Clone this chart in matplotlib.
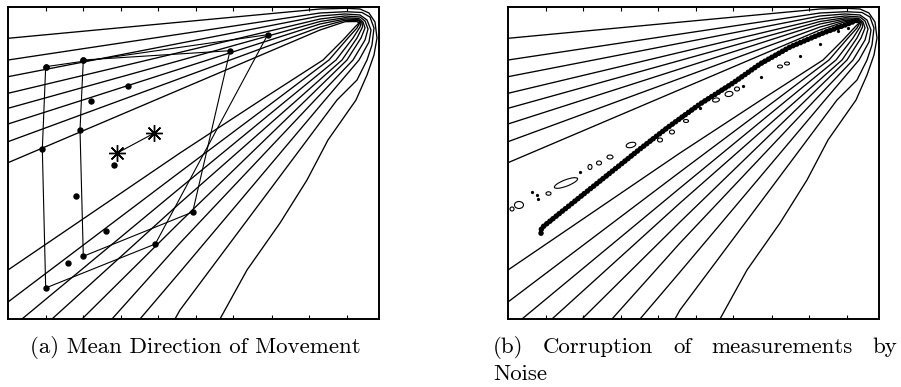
import matplotlib
matplotlib.use("Agg")
import matplotlib.pyplot as plt
from matplotlib.patches import Ellipse

# contour lines (same background field in both panels)
# each curve: upper arm from the left edge, round the focus, lower arm to the edge
hairpin_x = [
    [0, 8.410, 9.111, 9.488, 9.730, 9.892, 9.946, 9.865, 9.677, 9.380, 8.625, 8.059, 7.332, 6.442, 5.714],
    [0, 8.410, 9.111, 9.542, 9.757, 9.865, 9.811, 9.677, 9.407, 8.868, 4.636, 4.501],
    [0, 8.410, 9.084, 9.488, 9.677, 9.784, 9.730, 9.461, 8.544, 4.636, 3.558],
    [0, 8.410, 9.084, 9.488, 9.623, 9.704, 9.623, 9.299, 8.275, 4.636, 2.803],
    [0, 8.410, 9.084, 9.461, 9.569, 9.623, 9.515, 9.137, 8.032, 4.636, 1.995],
    [0, 8.410, 9.084, 9.434, 9.542, 9.555, 9.407, 9.003, 7.790, 4.636, 1.186],
    [0, 8.410, 9.084, 9.434, 9.515, 9.488, 9.299, 8.841, 7.520, 4.636, 0.377],
    [0, 8.410, 9.084, 9.407, 9.474, 9.407, 9.164, 8.652, 7.224, 4.636, 0],
    [0, 4.636, 6.819, 8.491, 9.030, 9.353, 9.488],
]
hairpin_y = [
    [8.997, 9.936, 9.958, 9.936, 9.808, 9.519, 9.006, 8.462, 7.821, 7.019, 5.737, 4.455, 3.077, 1.571, 0],
    [8.301, 9.808, 9.849, 9.824, 9.679, 9.327, 8.782, 8.301, 7.660, 7.019, 0.288, 0],
    [7.766, 9.712, 9.776, 9.744, 9.583, 9.263, 8.878, 8.301, 7.019, 1.506, 0],
    [7.234, 9.615, 9.712, 9.679, 9.551, 9.295, 8.942, 8.301, 7.019, 2.436, 0],
    [6.753, 9.535, 9.657, 9.631, 9.519, 9.327, 9.006, 8.301, 7.019, 3.109, 0],
    [6.250, 9.455, 9.615, 9.599, 9.503, 9.359, 9.006, 8.301, 7.019, 3.718, 0],
    [5.683, 9.359, 9.574, 9.567, 9.487, 9.359, 9.006, 8.301, 7.019, 4.199, 0],
    [5.010, 9.263, 9.529, 9.535, 9.471, 9.327, 9.006, 8.301, 7.019, 4.712, 0.545],
    [1.571, 5.321, 7.019, 8.301, 8.942, 9.359, 9.519],
]

# panel (a): two particle quadrilaterals, loose particles, mean positions
quad1_x = [1.016, 7.000, 3.970, 1.016, 0.925, 1.016]
quad1_y = [8.087, 9.112, 2.404, 0.994, 5.449, 8.087]
quad2_x = [2.030, 5.984, 4.978, 2.030, 1.941, 2.030]
quad2_y = [8.301, 8.599, 3.429, 2.010, 6.058, 8.301]
loose_x = [3.243, 2.237, 2.857, 1.833, 2.642, 1.625]
loose_y = [7.478, 6.987, 4.946, 3.942, 2.821, 1.804]
mean_x = [2.930, 3.935]
mean_y = [5.311, 5.952]

# panel (b): measurement track and noise contours
track_x = [0.890, 0.903, 1.402, 2.480, 3.558, 4.286, 5.175, 6.065, 6.792, 7.601, 8.491, 9.084, 9.488]
track_y = [2.750, 2.917, 3.397, 4.423, 5.449, 6.122, 6.891, 7.564, 8.173, 8.718, 9.167, 9.423, 9.615]
blob_x = [0.296, 0.108, 1.092, 1.563, 2.210, 2.453, 2.749, 3.315, 4.097, 4.420, 4.798, 5.606, 5.957, 6.173, 7.332, 7.520]
blob_y = [3.654, 3.526, 4.022, 4.359, 4.872, 5.000, 5.192, 5.577, 5.737, 5.994, 6.346, 7.019, 7.212, 7.372, 8.093, 8.189]
blob_w = [0.243, 0.108, 0.135, 0.684, 0.108, 0.135, 0.162, 0.270, 0.135, 0.135, 0.135, 0.189, 0.216, 0.135, 0.135, 0.135]
blob_h = [0.224, 0.128, 0.112, 0.200, 0.160, 0.128, 0.128, 0.160, 0.128, 0.128, 0.096, 0.128, 0.160, 0.128, 0.096, 0.096]
blob_ang = [0, 0, 0, 25, 0, 0, 0, 20, 0, 0, 0, 15, 15, 0, 0, 0]
speck_x = [0.639, 0.774, 0.817, 1.941, 5.175, 6.334, 6.819, 7.871, 8.410, 8.895, 9.164]
speck_y = [4.080, 3.974, 3.862, 4.721, 6.763, 7.468, 7.772, 8.429, 8.814, 9.215, 9.327]

tick_x = [1.016, 2.030, 3.038, 4.043, 5.067, 6.065, 7.108, 8.113, 9.129]

fig = plt.figure(figsize=(9.01, 3.87), dpi=100)
ax_a = fig.add_axes([8 / 901, 68 / 387, 371 / 901, 312 / 387])
ax_b = fig.add_axes([508 / 901, 68 / 387, 371 / 901, 312 / 387])

for ax in (ax_a, ax_b):
    for xs, ys in zip(hairpin_x, hairpin_y):
        ax.plot(xs, ys, color="k", lw=0.95, solid_joinstyle="round")
    ax.set_xlim(0, 10)
    ax.set_ylim(0, 10)
    ax.set_xticks(tick_x)
    ax.set_yticks([])
    ax.tick_params(axis="x", direction="in", top=True, bottom=True,
                   labelbottom=False, length=3, width=0.8)
    for s in ax.spines.values():
        s.set_linewidth(1.4)

# (a) mean direction of movement
ax_a.plot(quad1_x, quad1_y, color="k", lw=0.8, marker="o", markersize=3.6)
ax_a.plot(quad2_x, quad2_y, color="k", lw=0.8, marker="o", markersize=3.6)
ax_a.plot(loose_x, loose_y, ls="none", color="k", marker="o", markersize=3.6)
ax_a.plot(mean_x, mean_y, color="k", lw=0.8, marker=(8, 2, 0), markersize=12, markeredgewidth=1.0)

# (b) corruption by noise
ax_b.plot(track_x, track_y, color="k", lw=4.0, ls=(0, (0.001, 0.72)),
          dash_capstyle="round", solid_joinstyle="round")
for bx, by, bw, bh, ba in zip(blob_x, blob_y, blob_w, blob_h, blob_ang):
    ax_b.add_patch(Ellipse((bx, by), bw, bh, angle=ba, fill=False, ec="k", lw=0.8))
ax_b.plot(speck_x, speck_y, ls="none", color="k", marker="o", markersize=1.3)

cap = dict(fontfamily="cmr10", fontsize=16.5, va="baseline")
fig.text(195 / 901, 34 / 387, "(a) Mean Direction of Movement", ha="center", **cap)
fig.text(493 / 901, 34 / 387, "(b)", ha="left", **cap)
fig.text(543 / 901, 34 / 387, "Corruption", ha="left", **cap)
fig.text(673 / 901, 34 / 387, "of", ha="left", **cap)
fig.text(711 / 901, 34 / 387, "measurements", ha="left", **cap)
fig.text(897 / 901, 34 / 387, "by", ha="right", **cap)
fig.text(493 / 901, 7 / 387, "Noise", ha="left", **cap)

fig.savefig("out.png", dpi=100)
